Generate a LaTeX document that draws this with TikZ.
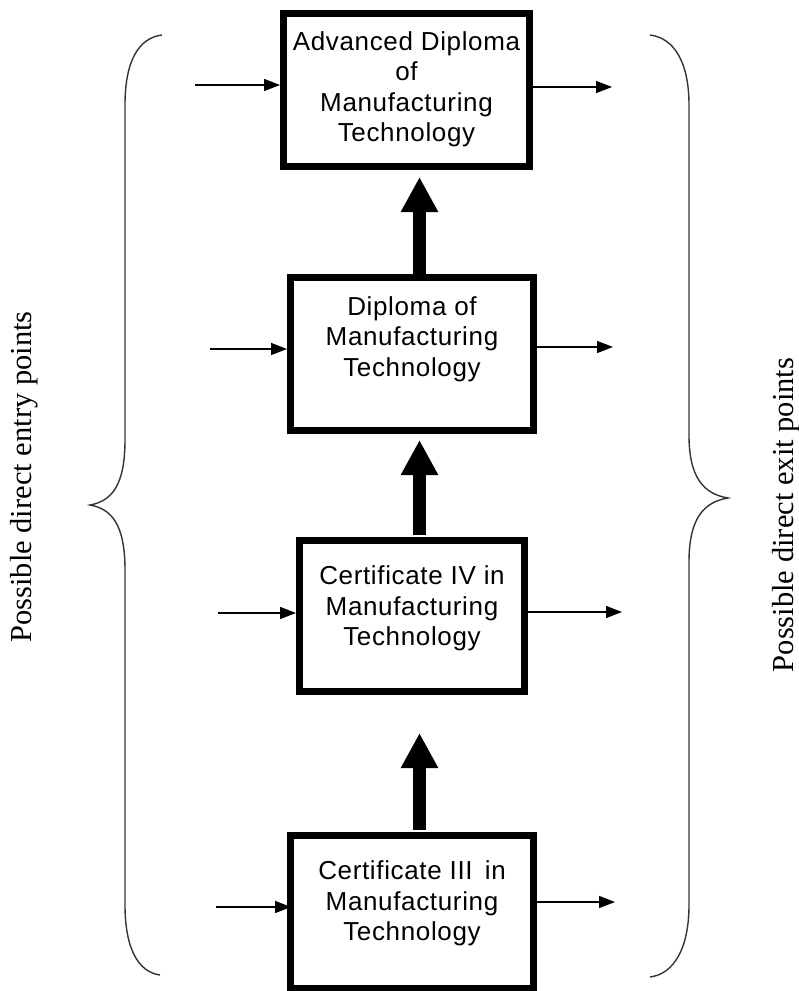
\documentclass[tikz,border=0pt]{standalone}
\usepackage{fontspec}
\newfontfamily\boxfont[LetterSpace=2.5]{Liberation Sans}
\newfontfamily\sidefont{Liberation Serif}
\usetikzlibrary{arrows.meta}
\tikzset{
  qualbox/.style={draw, line width=7pt, fill=white, inner sep=0pt},
  qualtext/.style={font=\boxfont\fontsize{26}{30.5}\selectfont, align=center, inner sep=0pt},
  sidearrow/.style={line width=1.5pt, -{Triangle[length=16pt,width=12pt]}},
  uparrow/.style={line width=13pt, -{Triangle[length=35pt,width=35pt]}},
  bracepath/.style={line width=1.4pt, black!80},
  sidelabel/.style={font=\sidefont\fontsize{30.5}{36}\selectfont, rotate=90, inner sep=0pt}
}
\begin{document}
\begin{tikzpicture}[x=1pt, y=-1pt]
  \useasboundingbox (0,0) rectangle (799,991);

  % qualification boxes
  \node[qualbox, minimum width=246pt, minimum height=153pt] (b1) at (406.5,90) {};
  \node[qualbox, minimum width=243pt, minimum height=153pt] (b2) at (412,354) {};
  \node[qualbox, minimum width=225pt, minimum height=151pt] (b3) at (412,616) {};
  \node[qualbox, minimum width=243pt, minimum height=153pt] (b4) at (412,912) {};

  \node[qualtext] (t1) at (406.5,89.5) {Advanced Diploma\\of\\Manufacturing\\Technology};
  \node[qualtext] (t2) at (412,339) {Diploma of\\Manufacturing\\Technology};
  \node[qualtext] (t3) at (412,608.5) {Certificate IV in\\Manufacturing\\Technology};
  \node[qualtext] (t4) at (412,903.5) {Certificate III\, in\\Manufacturing\\Technology};

  % progression arrows
  \coordinate (spine) at (419.5,0);
  \draw[uparrow, shorten >=7pt] (b2.north -| spine) -- (b1.south -| spine);
  \draw[uparrow, shorten <=2pt, shorten >=6pt] (b3.north -| spine) -- (b2.south -| spine);
  \draw[uparrow, shorten <=2pt, shorten >=38pt] (b4.north -| spine) -- (b3.south -| spine);

  % entry points
  \coordinate (in1) at (195,85);
  \coordinate (in2) at (210,349);
  \coordinate (in3) at (218,613);
  \coordinate (in4) at (216,907);
  \draw[sidearrow] (in1) -- (in1 -| b1.west);
  \draw[sidearrow] (in2) -- (in2 -| b2.west);
  \draw[sidearrow] (in3) -- (in3 -| b3.west);
  \draw[sidearrow] (in4) -- ([xshift=4pt]in4 -| b4.west);

  % exit points
  \coordinate (out1) at (612,87);
  \coordinate (out2) at (613,347);
  \coordinate (out3) at (622,612);
  \coordinate (out4) at (615,902);
  \draw[sidearrow] (out1 -| b1.east) -- (out1);
  \draw[sidearrow] (out2 -| b2.east) -- (out2);
  \draw[sidearrow] (out3 -| b3.east) -- (out3);
  \draw[sidearrow] (out4 -| b4.east) -- (out4);

  % braces
  \draw[bracepath] (162,35) .. controls (138,38) and (125,62) .. (125,105)
    -- (125,440) .. controls (125,485) and (112,501) .. (90,505)
    .. controls (112,509) and (125,525) .. (125,570)
    -- (125,905) .. controls (125,948) and (138,972) .. (160,975);
  \draw[bracepath] (650,35) .. controls (674,38) and (689,62) .. (689,105)
    -- (689,435) .. controls (689,478) and (704,494) .. (728,498)
    .. controls (704,502) and (689,518) .. (689,562)
    -- (689,905) .. controls (689,948) and (674,974) .. (650,977);

  \node[sidelabel] (entry) at (24,477) {Possible direct entry points};
  \node[sidelabel] (exit) at (786,515) {Possible direct exit points};
\end{tikzpicture}
\end{document}
